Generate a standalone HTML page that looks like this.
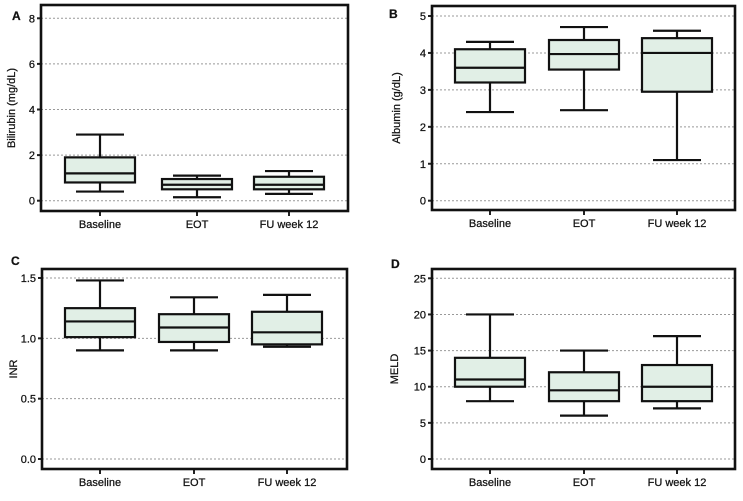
<!DOCTYPE html>
<html><head><meta charset="utf-8"><style>
body{margin:0;background:#fff;width:743px;height:501px;overflow:hidden}
svg{display:block}
text{font-family:"Liberation Sans",sans-serif;fill:#111;stroke:#111;stroke-width:0.25px}
</style></head><body>
<svg id="fig" width="743" height="501"></svg>
<script>
const categories=["Baseline","EOT","FU week 12"];
const bilirubinMin=[0.4,0.15,0.3], bilirubinQ1=[0.8,0.5,0.5], bilirubinMed=[1.2,0.7,0.7], bilirubinQ3=[1.9,0.95,1.05], bilirubinMax=[2.9,1.1,1.3];
const albuminMin=[2.4,2.45,1.1], albuminQ1=[3.2,3.55,2.95], albuminMed=[3.6,3.97,4.0], albuminQ3=[4.1,4.35,4.4], albuminMax=[4.3,4.7,4.6];
const inrMin=[0.9,0.9,0.93], inrQ1=[1.01,0.97,0.95], inrMed=[1.14,1.09,1.05], inrQ3=[1.25,1.2,1.22], inrMax=[1.48,1.34,1.36];
const meldMin=[8,6,7], meldQ1=[10,8,8], meldMed=[11,9.5,10], meldQ3=[14,12,13], meldMax=[20,15,17];
const ticksA=[0,2,4,6,8], ticksB=[0,1,2,3,4,5], ticksC=[0,0.5,1.0,1.5], ticksD=[0,5,10,15,20,25];
const ticksCLabels=["0.0","0.5","1.0","1.5"];

const NS="http://www.w3.org/2000/svg";
const svg=document.getElementById('fig');
function el(tag,attrs,parent){const e=document.createElementNS(NS,tag);for(const k in attrs)e.setAttribute(k,attrs[k]);(parent||svg).appendChild(e);return e;}

const panels=[
 {id:"a",letter:"A",lx:12,ly:20,title:"Bilirubin (mg/dL)",tx:15,box:[41,5,348,211],dom:[0,8],rng:[200.7,18.3],cx:[100,197,289],ticks:ticksA,tl:ticksA.map(String),mn:bilirubinMin,q1:bilirubinQ1,md:bilirubinMed,q3:bilirubinQ3,mx:bilirubinMax},
 {id:"b",letter:"B",lx:389,ly:18,title:"Albumin (g/dL)",tx:400,box:[432,6,735,210],dom:[0,5],rng:[200.7,16],cx:[490,584,677],ticks:ticksB,tl:ticksB.map(String),mn:albuminMin,q1:albuminQ1,md:albuminMed,q3:albuminQ3,mx:albuminMax},
 {id:"c",letter:"C",lx:11,ly:265,title:"INR",tx:17,box:[42,269,347,469],dom:[0,1.5],rng:[459,278],cx:[100,194,287],ticks:ticksC,tl:ticksCLabels,mn:inrMin,q1:inrQ1,md:inrMed,q3:inrQ3,mx:inrMax},
 {id:"d",letter:"D",lx:391,ly:268,title:"MELD",tx:398,box:[432,269,735,469],dom:[0,25],rng:[459,278.3],cx:[490,584,677],ticks:ticksD,tl:ticksD.map(String),mn:meldMin,q1:meldQ1,md:meldMed,q3:meldQ3,mx:meldMax}
];

panels.forEach(p=>{
 const g=el('g',{});
 
 
 const y=v=>p.rng[0]+(v-p.dom[0])/(p.dom[1]-p.dom[0])*(p.rng[1]-p.rng[0]);
 const [x0,y0,x1,y1]=p.box;
 const lt=el('text',{x:p.lx,y:p.ly,'font-size':12,'font-weight':'bold'},g);lt.textContent=p.letter;
 
 
 p.ticks.forEach((t,i)=>{
  const yy=y(t);
  const gl=el('line',{x1:x0,x2:x1,y1:yy,y2:yy,stroke:'#999','stroke-width':1,'stroke-dasharray':'2,2'},g);
  
  
  el('line',{x1:x0-4,x2:x0,y1:yy,y2:yy,stroke:'#222','stroke-width':2},g);
  const tt=el('text',{x:x0-6,y:yy+4,'font-size':11,'text-anchor':'end'},g);tt.textContent=p.tl[i];
  
  
 });
 const yt=el('text',{x:p.tx,y:(y0+y1)/2,'font-size':11,'text-anchor':'middle',transform:`rotate(-90 ${p.tx} ${(y0+y1)/2})`},g);
 yt.textContent=p.title;
 
 
 categories.forEach((c,i)=>{
  const cx=p.cx[i];
  el('line',{x1:cx,x2:cx,y1:y1,y2:y1+5,stroke:'#222','stroke-width':2},g);
  const xt=el('text',{x:cx,y:y1+17,'font-size':11,'text-anchor':'middle'},g);xt.textContent=c;
  
  
  const bg=el('g',{},g);
  
  
  const hw=35, cw=24;
  el('line',{x1:cx,x2:cx,y1:y(p.mx[i]),y2:y(p.q3[i]),stroke:'#111','stroke-width':2.2},bg);
  el('line',{x1:cx,x2:cx,y1:y(p.q1[i]),y2:y(p.mn[i]),stroke:'#111','stroke-width':2.2},bg);
  el('line',{x1:cx-cw,x2:cx+cw,y1:y(p.mx[i]),y2:y(p.mx[i]),stroke:'#111','stroke-width':2.2},bg);
  el('line',{x1:cx-cw,x2:cx+cw,y1:y(p.mn[i]),y2:y(p.mn[i]),stroke:'#111','stroke-width':2.2},bg);
  el('rect',{x:cx-hw,y:y(p.q3[i]),width:2*hw,height:y(p.q1[i])-y(p.q3[i]),fill:'#e1efe6',stroke:'#111','stroke-width':2.2},bg);
  el('line',{x1:cx-hw,x2:cx+hw,y1:y(p.md[i]),y2:y(p.md[i]),stroke:'#111','stroke-width':2.2},bg);
 });
 const fr=el('rect',{x:x0,y:y0,width:x1-x0,height:y1-y0,fill:'none',stroke:'#111','stroke-width':2.6},g);
 
 
});
</script>
</body></html>
